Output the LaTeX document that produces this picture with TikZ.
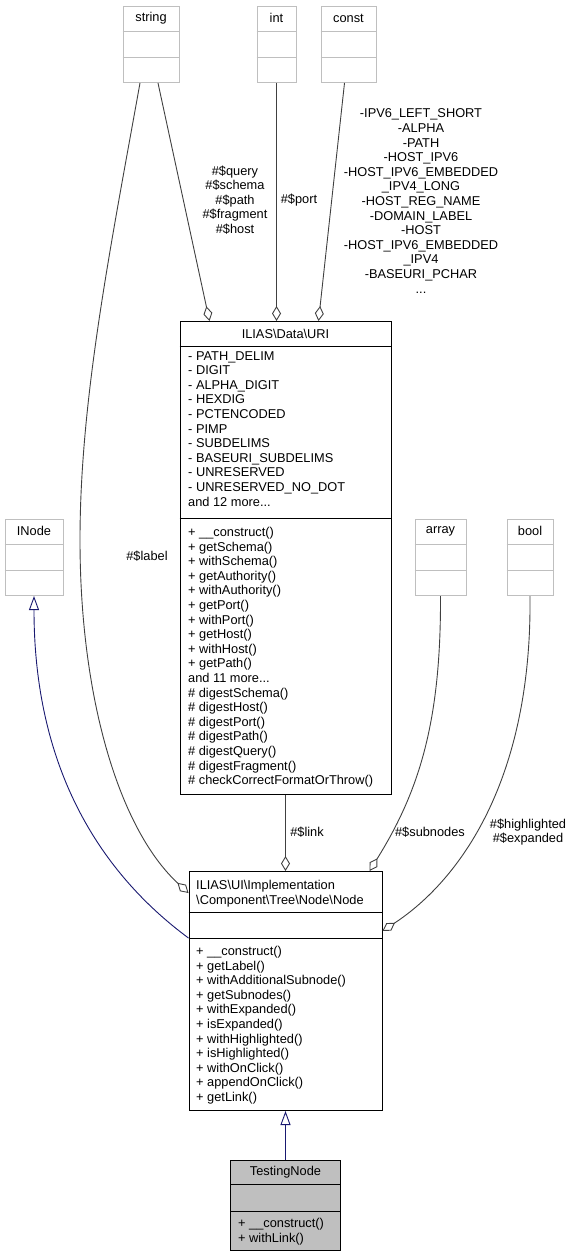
\documentclass[tikz,border=0pt]{standalone}
\usepackage{fontspec}
\setmainfont{Liberation Sans}
\usetikzlibrary{arrows.meta}
\definecolor{boxgray}{HTML}{BFBFBF}
\definecolor{edgegray}{HTML}{404040}
\definecolor{navy}{HTML}{191970}
\tikzset{
  txt/.style={inner sep=0pt, font=\fontsize{12.8}{14.6}\selectfont, align=left},
  lbl/.style={txt, align=center},
  graybox/.style={draw=boxgray, line width=1pt, inner sep=0pt},
  classbox/.style={draw=black, line width=1pt, inner sep=0pt},
  assoc/.style={draw=edgegray, line width=0.9pt, -{Diamond[open,length=15pt,width=9pt]}},
  inherit/.style={draw=navy, line width=0.9pt, -{Triangle[open,length=14pt,width=10pt]}},
}
% gray type box: name, x, top, width, text
\newcommand{\typebox}[5]{%
  \node[graybox, minimum width=#4pt, minimum height=76pt, anchor=north] (#1) at (#2,#3) {};
  \draw[boxgray] ([yshift=-25pt]#1.north west) -- ([yshift=-25pt]#1.north east);
  \draw[boxgray] ([yshift=-51pt]#1.north west) -- ([yshift=-51pt]#1.north east);
  \node[txt] (#1T) at ([yshift=-12pt]#1.north) {#5};}
\begin{document}
\begin{tikzpicture}[x=1pt,y=-1pt]
  \useasboundingbox (0,0) rectangle (573,1257);
  % Types
  \typebox{string}{151}{6}{56}{string}
  \typebox{int}{276.5}{6}{39}{int}
  \typebox{const}{348.5}{6}{55}{const}
  \typebox{INode}{34}{519}{58}{INode}
  \typebox{array}{440.5}{519}{51}{array}
  \typebox{bool}{530}{519}{46}{bool}
  % URI
  \node[classbox, minimum width=211pt, minimum height=473pt, anchor=north] (URI) at (285.5,321) {};
  \draw ([yshift=-25pt]URI.north west) -- ([yshift=-25pt]URI.north east);
  \draw ([yshift=-197pt]URI.north west) -- ([yshift=-197pt]URI.north east);
  \node[txt] (URIT) at (285.5,334) {ILIAS\textbackslash Data\textbackslash URI};
  \node[txt, anchor=north west] (URIA) at (188,351) {- PATH\_DELIM\\- DIGIT\\- ALPHA\_DIGIT\\- HEXDIG\\- PCTENCODED\\- PIMP\\- SUBDELIMS\\- BASEURI\_SUBDELIMS\\- UNRESERVED\\- UNRESERVED\_NO\_DOT\\and 12 more...};
  \node[txt, anchor=north west] (URIO) at (188,527) {+ \_\_construct()\\+ getSchema()\\+ withSchema()\\+ getAuthority()\\+ withAuthority()\\+ getPort()\\+ withPort()\\+ getHost()\\+ withHost()\\+ getPath()\\and 11 more...\\\# digestSchema()\\\# digestHost()\\\# digestPort()\\\# digestPath()\\\# digestQuery()\\\# digestFragment()\\\# checkCorrectFormatOrThrow()};
  % Node
  \node[classbox, minimum width=193pt, minimum height=239pt, anchor=north] (Node) at (285.5,871) {};
  \draw ([yshift=-41pt]Node.north west) -- ([yshift=-41pt]Node.north east);
  \draw ([yshift=-67pt]Node.north west) -- ([yshift=-67pt]Node.north east);
  \node[txt, anchor=north west] (NodeT) at (196,880) {ILIAS\textbackslash UI\textbackslash Implementation\\\textbackslash Component\textbackslash Tree\textbackslash Node\textbackslash Node};
  \node[txt, anchor=north west] (NodeO) at (196,946) {+ \_\_construct()\\+ getLabel()\\+ withAdditionalSubnode()\\+ getSubnodes()\\+ withExpanded()\\+ isExpanded()\\+ withHighlighted()\\+ isHighlighted()\\+ withOnClick()\\+ appendOnClick()\\+ getLink()};
  % TestingNode
  \node[classbox, fill=boxgray, minimum width=110pt, minimum height=90pt, anchor=north] (Testing) at (285.5,1160) {};
  \draw ([yshift=-24pt]Testing.north west) -- ([yshift=-24pt]Testing.north east);
  \draw ([yshift=-51pt]Testing.north west) -- ([yshift=-51pt]Testing.north east);
  \node[txt] (TestingT) at (285.5,1172) {TestingNode};
  \node[txt, anchor=north west] (TestingO) at (238,1218) {+ \_\_construct()\\+ withLink()};
  % Associations
  \draw[assoc] ([xshift=-11pt]string.south) .. controls (110,250) and (80,400) .. (80,540)
     .. controls (80,700) and (120,830) .. ([yshift=-22pt]Node.north west);
  \draw[assoc] ([xshift=7pt]string.south) -- ([xshift=30pt]URI.north west);
  \draw[assoc] (int.south) -- (int.south |- URI.north);
  \draw[assoc] ([xshift=-4pt]const.south) -- ([xshift=-73pt]URI.north east);
  \draw[assoc] (URI.south) -- (Node.north);
  \draw[assoc] (array.south) .. controls (441,720) and (420,790) .. ([xshift=-13pt]Node.north east);
  \draw[assoc] (bool.south) .. controls (532,780) and (460,880) .. ([yshift=-60pt]Node.north east);
  % Inheritance
  \draw[inherit] ([yshift=-67pt]Node.north west) .. controls (110,880) and (34,780) .. (INode.south);
  \draw[inherit] (Testing.north) -- (Node.south);
  % Labels
  \node[lbl] (lblLabel) at (147,556) {\#\$label};
  \node[lbl] (lblQuery) at (235,200) {\#\$query\\\#\$schema\\\#\$path\\\#\$fragment\\\#\$host};
  \node[lbl] (lblPort) at (299,200) {\#\$port};
  \node[lbl] (lblConst) at (421,201) {-IPV6\_LEFT\_SHORT\\-ALPHA\\-PATH\\-HOST\_IPV6\\-HOST\_IPV6\_EMBEDDED\\\_IPV4\_LONG\\-HOST\_REG\_NAME\\-DOMAIN\_LABEL\\-HOST\\-HOST\_IPV6\_EMBEDDED\\\_IPV4\\-BASEURI\_PCHAR\\...};
  \node[lbl] (lblLink) at (307,832) {\#\$link};
  \node[lbl] (lblSub) at (430,832) {\#\$subnodes};
  \node[lbl] (lblHigh) at (528,832) {\#\$highlighted\\\#\$expanded};
\end{tikzpicture}
\end{document}
